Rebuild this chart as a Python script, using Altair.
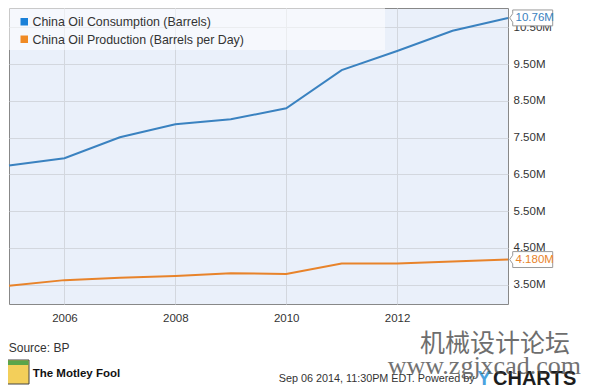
import altair as alt
import pandas as pd

# ---- data ----
years = [2005, 2006, 2007, 2008, 2009, 2010, 2011, 2012, 2013, 2014]
consumption = [6.74, 6.94, 7.51, 7.865, 8.00, 8.30, 9.34, 9.86, 10.41, 10.76]
production = [3.47, 3.62, 3.685, 3.73, 3.805, 3.79, 4.07, 4.07, 4.13, 4.18]
series_names = ["China Oil Consumption (Barrels)", "China Oil Production (Barrels per Day)"]
end_labels = ["10.76M", "4.180M"]
x_ticks = [2006, 2008, 2010, 2012]
y_ticks = [3.5, 4.5, 5.5, 6.5, 7.5, 8.5, 9.5, 10.5]

line_colors = ["#3a82c0", "#e8832a"]
legend_colors = ["#1a80d8", "#f08a24"]
label_colors = ["#4d94cc", "#e9a061"]

FONT = "Liberation Sans"

rows = []
for y, c, p in zip(years, consumption, production):
    rows.append({"year": y, "value": c, "series": series_names[0]})
    rows.append({"year": y, "value": p, "series": series_names[1]})
df = pd.DataFrame(rows)

last = pd.DataFrame({
    "year": [years[-1], years[-1]],
    "value": [consumption[-1], production[-1]],
    "series": series_names,
    "label": end_labels,
})

one = pd.DataFrame({"k": [0]})

xscale = alt.Scale(domain=[2005, 2014], nice=False)
yscale = alt.Scale(domain=[2.97, 11.03], nice=False, zero=False)
cscale = alt.Scale(domain=series_names, range=line_colors)

X = alt.X("year:Q", scale=xscale, title=None,
          axis=alt.Axis(values=x_ticks, format="d", grid=True, gridColor="#d3d7de",
                        domain=False, ticks=False, labelPadding=8, labelFontSize=11.5,
                        labelColor="#333", labelFont=FONT))
Y = alt.Y("value:Q", scale=yscale, title=None,
          axis=alt.Axis(orient="right", values=y_ticks,
                        labelExpr="format(datum.value, '.2f') + 'M'",
                        grid=True, gridColor="#d3d7de", domain=False, ticks=False,
                        labelPadding=5, labelFontSize=11.5, labelColor="#333",
                        labelFont=FONT))

legend_bg = alt.Chart(one).mark_rect(fill="white", opacity=0.55).encode(
    x=alt.value(0), x2=alt.value(376), y=alt.value(0), y2=alt.value(42))

lines = alt.Chart(df).mark_line(strokeWidth=2).encode(
    x=X, y=Y,
    color=alt.Color("series:N", scale=cscale, legend=None))

legend_layers = []
for i, name in enumerate(series_names):
    top = 10 + i * 17.5
    legend_layers.append(
        alt.Chart(one).mark_rect(fill=legend_colors[i]).encode(
            x=alt.value(11.5), x2=alt.value(19), y=alt.value(top), y2=alt.value(top + 7.5)))
    legend_layers.append(
        alt.Chart(one).mark_text(text=name, align="left", baseline="middle",
                                 font=FONT, fontSize=12.4, color="#333").encode(
            x=alt.value(23.5), y=alt.value(top + 4)))

box_path = "M -1 0 L -0.86 -0.2 L -0.86 -0.37 L 1 -0.37 L 1 0.37 L -0.86 0.37 L -0.86 0.2 Z"
end_boxes = alt.Chart(last).mark_point(
    shape=box_path, size=1849, filled=True, fill="white", stroke="#9a9a9a",
    strokeWidth=1, opacity=1).encode(
    x=alt.value(522.2), y=alt.Y("value:Q", scale=yscale))

end_text = alt.Chart(last).mark_text(align="left", baseline="middle", font=FONT,
                                     fontSize=11.5).encode(
    x=alt.value(506.5), y=alt.Y("value:Q", scale=yscale),
    text="label:N",
    color=alt.Color("series:N", scale=alt.Scale(domain=series_names, range=label_colors),
                    legend=None))


def txt(s, x, y, **kw):
    params = dict(text=s, align="left", baseline="middle", font=FONT, fontSize=12, color="#333")
    params.update(kw)
    return alt.Chart(one).mark_text(**params).encode(x=alt.value(x), y=alt.value(y))


source = txt("Source: BP", -0.3, 339.7)
logo = alt.Chart(one).mark_rect(fill="#f3cf5a", stroke="#444", strokeWidth=1).encode(
    x=alt.value(-1.5), x2=alt.value(20), y=alt.value(352), y2=alt.value(376))
logo2 = alt.Chart(one).mark_rect(fill="#5aa54a").encode(
    x=alt.value(-1), x2=alt.value(19.5), y=alt.value(352.5), y2=alt.value(357))
fool = txt("The Motley Fool", 23.7, 365.7, fontSize=11.5, fontWeight="bold", color="#111")
stamp = txt("Sep 06 2014, 11:30PM EDT. Powered by", 269.7, 370.7, fontSize=10.8, color="#333")
ych_y = txt("Y", 468.5, 370.5, fontSize=20, fontWeight="bold", color="#4aa3df")
ych = txt("CHARTS", 484, 370.5, fontSize=20, fontWeight="bold", color="#1d1d1d")
wm1 = txt("机械设计论坛", 411, 336, font="Noto Sans CJK SC", fontSize=25,
          color="#555", opacity=0.85)
wm2 = txt("www.zgjxcad.com", 378.7, 357.5, font="Liberation Serif", fontSize=26,
          color="#444", opacity=0.75)

chart = alt.layer(
    legend_bg, lines, *legend_layers, end_boxes, end_text,
    source, logo, logo2, fool, stamp, ych_y, ych, wm1, wm2
).properties(
    width=499, height=296,
    padding={"left": 1, "top": 0, "right": 73, "bottom": 85},
    autosize=alt.AutoSizeParams(type="none"),
    background="white",
).configure_view(
    stroke="#888", strokeWidth=1, fill="#eaf0fa"
)

chart.save("out.html", embed_options={"renderer": "svg", "actions": False})
